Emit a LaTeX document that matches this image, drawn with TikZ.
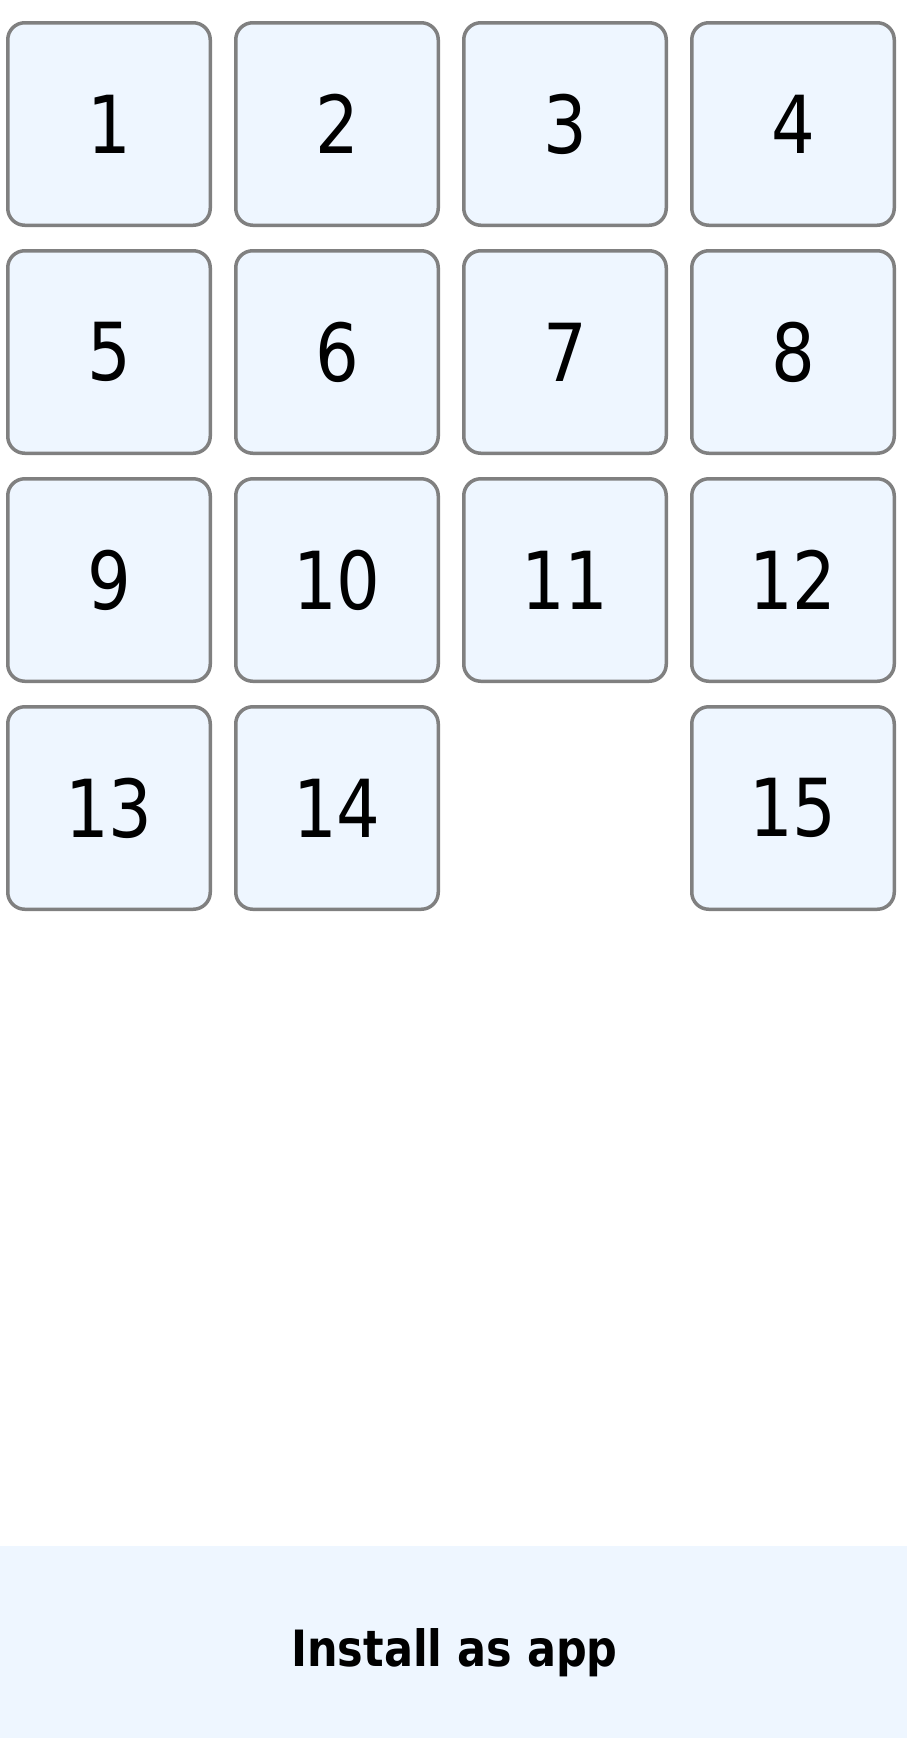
\documentclass[tikz,border=0pt]{standalone}
\usepackage{fontspec}
\setmainfont{DejaVu Sans}[FakeStretch=0.86]
\definecolor{tilefill}{HTML}{EEF6FF}
\definecolor{tileline}{HTML}{808080}
\tikzset{
  tile/.style={draw=tileline, line width=3.5pt, fill=tilefill, rounded corners=17pt,
    minimum width=202.5pt, minimum height=202.5pt, inner sep=0pt,
    font=\fontsize{80}{80}\selectfont, text=black},
  band/.style={fill=tilefill, draw=none, minimum width=907pt, minimum height=192pt, inner sep=0pt},
  bandtext/.style={font=\bfseries\fontsize{50}{50}\selectfont, text=black, inner sep=0pt, anchor=base}
}
\begin{document}
\begin{tikzpicture}[x=1pt,y=-1pt]
\useasboundingbox[fill=white] (0,0) rectangle (916,1738);
\node[tile] (t1)  at (109,124) {1};
\node[tile] (t2)  at (337,124) {2};
\node[tile] (t3)  at (565,124) {3};
\node[tile] (t4)  at (793,124) {4};
\node[tile] (t5)  at (109,352) {5};
\node[tile] (t6)  at (337,352) {6};
\node[tile] (t7)  at (565,352) {7};
\node[tile] (t8)  at (793,352) {8};
\node[tile] (t9)  at (109,580) {9};
\node[tile] (t10) at (337,580) {10};
\node[tile] (t11) at (565,580) {11};
\node[tile] (t12) at (793,580) {12};
\node[tile] (t13) at (109,808) {13};
\node[tile] (t14) at (337,808) {14};
\node[tile] (t15) at (793,808) {15};
\node[band] (install) at (453.5,1642) {};
\node[bandtext] (installtext) at (454.5,1666) {Install as app};
\end{tikzpicture}
\end{document}
